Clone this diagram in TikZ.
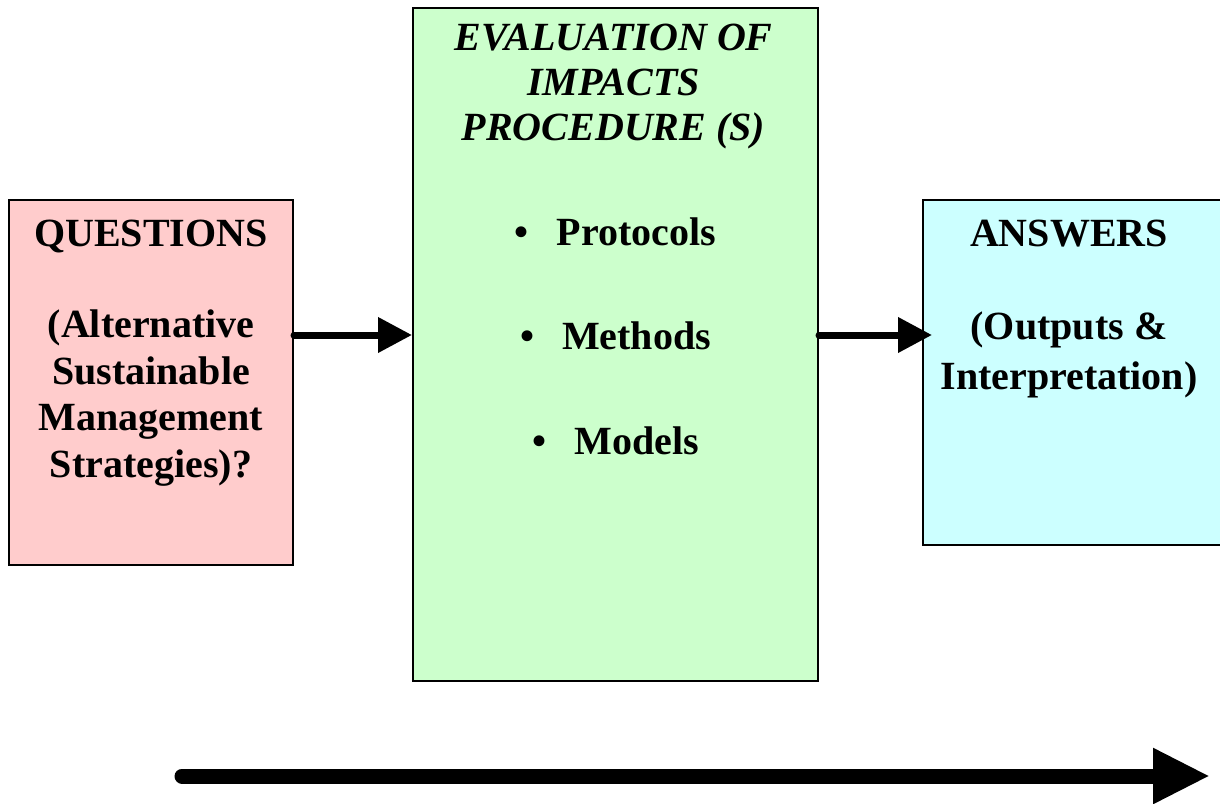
\documentclass[tikz,border=0pt]{standalone}
\usepackage{fontspec}
\setmainfont{Liberation Serif}
\usetikzlibrary{arrows.meta,calc}
\definecolor{qpink}{HTML}{FFCCCC}
\definecolor{egreen}{HTML}{CCFFCC}
\definecolor{acyan}{HTML}{CCFFFF}
\tikzset{
    box/.style={draw=black,line width=1.5pt,inner sep=0pt},
    boxtext/.style={align=center,inner sep=0pt,anchor=north,font=\fontsize{30}{#1}\selectfont\bfseries},
    titletext/.style={align=center,inner sep=0pt,anchor=north,font=\fontsize{30}{#1}\selectfont\bfseries\itshape},
    flow/.style={-{Triangle[length=25.5pt,width=25.5pt]},line width=5.25pt,line cap=round},
    timeline/.style={-{Triangle[length=42.75pt,width=39pt]},line width=11.25pt,line cap=round}
}

\begin{document}
\begin{tikzpicture}[x=0.75pt,y=-0.75pt]
\useasboundingbox (0,0) rectangle (1220,803);
\clip (0,0) rectangle (1220,803);
\node[box,fill=qpink,minimum width=213pt,minimum height=273.75pt] (questions) at (151,382.5) {};
\node[box,fill=egreen,minimum width=303.75pt,minimum height=504.75pt] (evaluation) at (615.5,344.5) {};
\node[box,fill=acyan,minimum width=237.75pt,minimum height=258.75pt] (answers) at (1081.5,372.5) {};
\node[boxtext=34.9pt] (questext) at ($(questions.north)+(0,21)$) {QUESTIONS\\[33.4pt](Alternative\\Sustainable\\Management\\Strategies)?};
\node[titletext=33.75pt] (evaltitle) at ($(evaluation.north)+(-2,17)$) {EVALUATION OF\\IMPACTS\\PROCEDURE (S)};
\node[boxtext=35pt] (evalitems) at ($(evaluation.north)+(0,210)$) {•\hspace{21pt}Protocols\\[43.4pt]•\hspace{21pt}Methods\\[43.4pt]•\hspace{21pt}Models};
\node[boxtext=37.5pt] (anstext) at ($(answers.north west)+(147,21)$) {ANSWERS\\[32.25pt](Outputs \&\\Interpretation)};
\coordinate (flowy) at (0,335);
\draw[flow] (questions.east |- flowy) -- (evaluation.west |- flowy);
\draw[flow,shorten >=-7.5pt] (evaluation.east |- flowy) -- (answers.west |- flowy);
\coordinate (timestart) at (182,776);
\coordinate (timeend) at (1210,776);
\draw[timeline] (timestart) -- (timeend);
\end{tikzpicture}
\end{document}
